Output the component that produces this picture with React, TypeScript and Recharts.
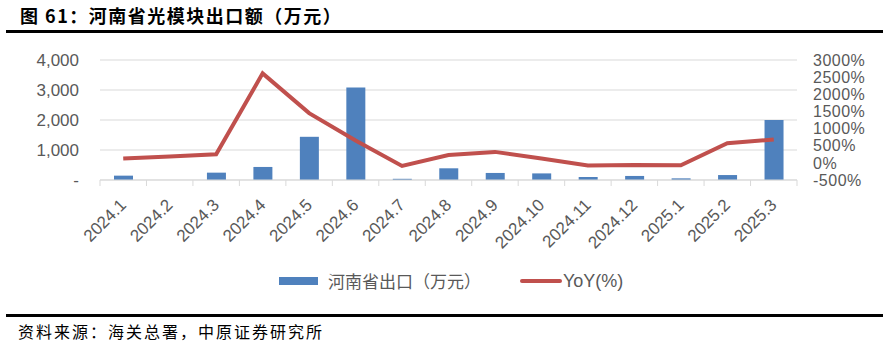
import React from 'react';
import { ComposedChart, Bar, Line, XAxis, YAxis, CartesianGrid } from 'recharts';

const months = [
  '2024.1', '2024.2', '2024.3', '2024.4', '2024.5', '2024.6', '2024.7', '2024.8',
  '2024.9', '2024.10', '2024.11', '2024.12', '2025.1', '2025.2', '2025.3',
];
// 河南省出口（万元）
const exportValue = [145, 0, 245, 435, 1440, 3080, 40, 390, 235, 220, 100, 135, 55, 165, 2000];
// YoY(%)
const yoy = [130, 185, 250, 2610, 1450, 650, -90, 230, 320, 130, -80, -60, -70, 570, 680];

const leftTicks = [0, 1000, 2000, 3000, 4000];
const rightTicks = [-500, 0, 500, 1000, 1500, 2000, 2500, 3000];

const W = 889;
const H = 347;
const PLOT_LEFT = 100;
const PLOT_RIGHT = 797;
const BAND = (PLOT_RIGHT - PLOT_LEFT) / months.length;

const tickFont = { fontFamily: 'Liberation Sans, Arial, sans-serif', fontSize: 17, fill: '#595959' };
const cjk = '"Noto Sans CJK SC", sans-serif';

const chartData = months.map((m, i) => ({ month: m, value: exportValue[i], yoy: yoy[i] }));

const MonthTick = (props: any) => {
  const { x, y, payload, index } = props;
  const axisY = y - 8;
  const bx = x - BAND / 2;
  return (
    <g>
      <line x1={bx} y1={axisY} x2={bx} y2={axisY + 6} stroke="#D9D9D9" />
      {index === months.length - 1 && (
        <line x1={x + BAND / 2} y1={axisY} x2={x + BAND / 2} y2={axisY + 6} stroke="#D9D9D9" />
      )}
      <text
        x={x + 4}
        y={y + 18}
        textAnchor="end"
        transform={`rotate(-45, ${x + 4}, ${y + 18})`}
        {...tickFont}
      >
        {payload.value}
      </text>
    </g>
  );
};

export default function App() {
  return (
    <div style={{ position: 'absolute', left: 0, top: 0, width: W, height: H, background: '#fff', overflow: 'hidden' }}>
      <div
        style={{
          position: 'absolute', left: 20, top: 5, fontFamily: cjk, fontWeight: 700,
          fontSize: 18, lineHeight: '20px', letterSpacing: 1.5, color: '#000', whiteSpace: 'nowrap',
        }}
      >
        图 61：河南省光模块出口额（万元）
      </div>
      <div style={{ position: 'absolute', left: 6, top: 30, width: 877, height: 3, background: '#000' }} />

      <div style={{ position: 'absolute', left: 0, top: 0 }}>
        <ComposedChart
          width={W}
          height={H}
          data={chartData}
          margin={{ top: 60, right: 32, bottom: 87, left: 40 }}
          barSize={19}
        >
          <CartesianGrid yAxisId="left" vertical={false} stroke="#D9D9D9" />
          <XAxis
            dataKey="month"
            interval={0}
            height={80}
            axisLine={{ stroke: '#D9D9D9' }}
            tickLine={false}
            tick={<MonthTick />}
          />
          <YAxis
            yAxisId="left"
            width={60}
            domain={[0, 4000]}
            ticks={leftTicks}
            interval={0}
            axisLine={false}
            tickLine={false}
            tickMargin={15}
            tick={tickFont}
            tickFormatter={(v: number) => (v === 0 ? '-' : v.toLocaleString('en-US'))}
          />
          <YAxis
            yAxisId="right"
            orientation="right"
            width={60}
            domain={[-500, 3000]}
            ticks={rightTicks}
            interval={0}
            axisLine={false}
            tickLine={false}
            tickMargin={10}
            tick={{ ...tickFont, fontSize: 16, letterSpacing: 0.5, textAnchor: 'start' }}
            tickFormatter={(v: number) => `${v}%`}
          />
          <Bar yAxisId="left" dataKey="value" fill="#4F81BD" isAnimationActive={false} />
          <Line
            yAxisId="right"
            type="linear"
            dataKey="yoy"
            stroke="#C0504D"
            strokeWidth={4}
            dot={false}
            isAnimationActive={false}
          />
        </ComposedChart>
      </div>

      {/* legend */}
      <div style={{ position: 'absolute', left: 279, top: 277, width: 39, height: 8, background: '#4F81BD' }} />
      <div
        style={{
          position: 'absolute', left: 328, top: 270, fontFamily: cjk, fontSize: 17,
          lineHeight: '22px', color: '#595959', whiteSpace: 'nowrap',
        }}
      >
        河南省出口（万元）
      </div>
      <div style={{ position: 'absolute', left: 520, top: 279, width: 42, height: 4, background: '#C0504D', borderRadius: 2 }} />
      <div
        style={{
          position: 'absolute', left: 563, top: 270, fontFamily: 'Liberation Sans, Arial, sans-serif',
          fontSize: 18, lineHeight: '22px', color: '#595959', whiteSpace: 'nowrap',
        }}
      >
        YoY(%)
      </div>

      <div style={{ position: 'absolute', left: 6, top: 314, width: 877, height: 3, background: '#000' }} />
      <div
        style={{
          position: 'absolute', left: 18, top: 321, fontFamily: cjk, fontSize: 16,
          lineHeight: '20px', letterSpacing: 2, color: '#000', whiteSpace: 'nowrap',
        }}
      >
        资料来源：海关总署，中原证券研究所
      </div>
    </div>
  );
}
